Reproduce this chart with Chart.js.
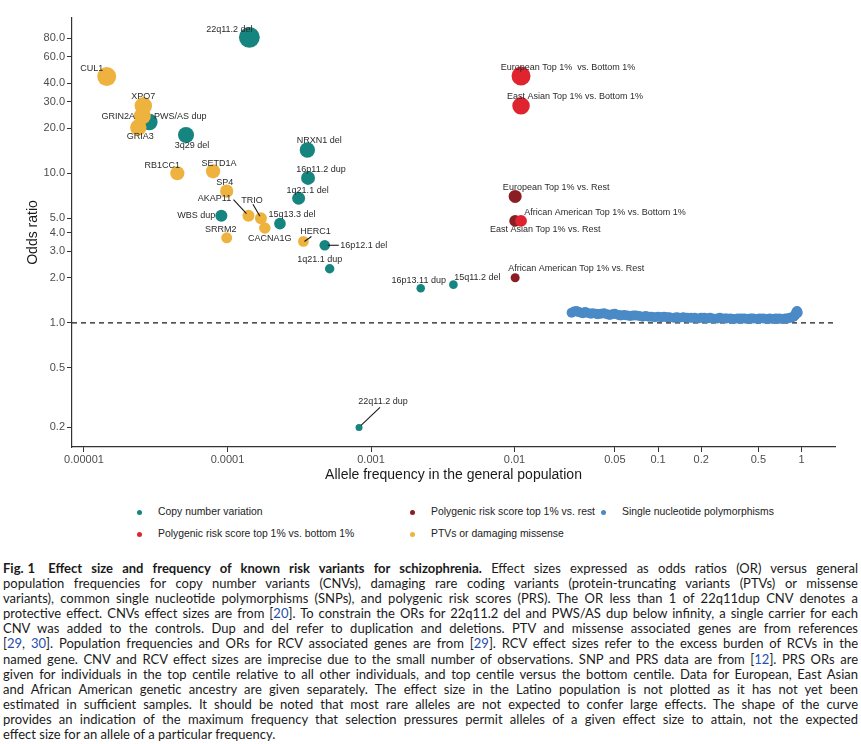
<!DOCTYPE html>
<html>
<head>
<meta charset="utf-8">
<script src="https://cdn.jsdelivr.net/npm/chart.js@4.4.1/dist/chart.umd.min.js"></script>
<style>
    body { margin: 0; background: #fff; width: 861px; height: 744px; overflow: hidden; position: relative;
           font-family: "Liberation Sans", Arial, sans-serif; }
    #plot { position: absolute; left: 0; top: 0; width: 861px; height: 500px; }
    .lg { position: absolute; font-size: 10.4px; color: #222; white-space: nowrap; line-height: 14px; }
    .lg i { position: absolute; left: -21px; top: 4.5px; width: 5px; height: 5px; border-radius: 50%; }
    #caption { position: absolute; left: 3px; top: 561px; width: 855px; font-family: Lato, "Open Sans", sans-serif;
               font-size: 13px; line-height: 15.1px; color: #1a1a1a; }
    #caption div { white-space: nowrap; }
    #caption a { color: #1f4fae; text-decoration: none; }
    #caption .fix { display: inline-block; margin-right: 13px; }
    #caption .fix span { margin-left: 4px; }
</style>
</head>
<body>
<div id="plot"><canvas id="chart"></canvas></div>

<div class="lg" style="left:158px;top:505px"><i style="background:#16857f"></i>Copy number variation</div>
<div class="lg" style="left:431px;top:505px"><i style="background:#8b1e24"></i>Polygenic risk score top 1% vs. rest</div>
<div class="lg" style="left:622px;top:505px"><i style="background:#4a8ac6"></i>Single nucleotide polymorphisms</div>
<div class="lg" style="left:158px;top:527px"><i style="background:#e0242f"></i>Polygenic risk score top 1% vs. bottom 1%</div>
<div class="lg" style="left:431px;top:527px"><i style="background:#eeb33e"></i>PTVs or damaging missense</div>

<div id="caption">
<div class="j"><b class="fix">Fig.<span>1</span></b><b>Effect size and frequency of known risk variants for schizophrenia.</b> Effect sizes expressed as odds ratios (OR) versus general</div>
<div class="j">population frequencies for copy number variants (CNVs), damaging rare coding variants (protein-truncating variants (PTVs) or missense</div>
<div class="j">variants), common single nucleotide polymorphisms (SNPs), and polygenic risk scores (PRS). The OR less than 1 of 22q11dup CNV denotes a</div>
<div class="j">protective effect. CNVs effect sizes are from [<a>20</a>]. To constrain the ORs for 22q11.2 del and PWS/AS dup below infinity, a single carrier for each</div>
<div class="j">CNV was added to the controls. Dup and del refer to duplication and deletions. PTV and missense associated genes are from references</div>
<div class="j">[<a>29</a>, <a>30</a>]. Population frequencies and ORs for RCV associated genes are from [<a>29</a>]. RCV effect sizes refer to the excess burden of RCVs in the</div>
<div class="j">named gene. CNV and RCV effect sizes are imprecise due to the small number of observations. SNP and PRS data are from [<a>12</a>]. PRS ORs are</div>
<div class="j">given for individuals in the top centile relative to all other individuals, and top centile versus the bottom centile. Data for European, East Asian</div>
<div class="j">and African American genetic ancestry are given separately. The effect size in the Latino population is not plotted as it has not yet been</div>
<div class="j">estimated in sufficient samples. It should be noted that most rare alleles are not expected to confer large effects. The shape of the curve</div>
<div class="j">provides an indication of the maximum frequency that selection pressures permit alleles of a given effect size to attain, not the expected</div>
<div>effect size for an allele of a particular frequency.</div>
</div>

<script>
// ── data ─────────────────────────────────────────────
const xTicks = [0.00001, 0.0001, 0.001, 0.01, 0.05, 0.1, 0.2, 0.5, 1];
const xTickLabels = ['0.00001', '0.0001', '0.001', '0.01', '0.05', '0.1', '0.2', '0.5', '1'];
const yTicks = [0.2, 0.5, 1, 2, 3, 4, 5, 10, 20, 30, 40, 60, 80];
const yTickLabels = ['0.2', '0.5', '1.0', '2.0', '3.0', '4.0', '5.0', '10.0', '20.0', '30.0', '40.0', '60.0', '80.0'];

// copy number variants
const cnvNames = ['22q11.2 del', 'PWS/AS dup', '3q29 del', 'NRXN1 del', '16p11.2 dup', '1q21.1 del', 'WBS dup',
                  '15q13.3 del', '16p12.1 del', '1q21.1 dup', '16p13.11 dup', '15q11.2 del', '22q11.2 dup'];
const cnvFreq = [0.000142, 0.0000285, 0.0000514, 0.00036, 0.000364, 0.000313, 0.0000906,
                 0.000232, 0.000476, 0.000515, 0.00222, 0.00375, 0.000825];
const cnvOR = [80.9, 22.0, 18.0, 14.3, 9.3, 6.8, 5.2, 4.6, 3.3, 2.3, 1.7, 1.8, 0.2];

// PTVs / damaging missense
const ptvNames = ['CUL1', 'XPO7', 'GRIN2A', 'GRIA3', 'RB1CC1', 'SETD1A', 'SP4', 'AKAP11', 'TRIO', 'CACNA1G', 'SRRM2', 'HERC1'];
const ptvFreq = [0.0000144, 0.0000259, 0.0000255, 0.0000239, 0.0000447, 0.0000793, 0.0000987,
                 0.00014, 0.000171, 0.000182, 0.0000987, 0.000338];
const ptvOR = [44.3, 28.2, 24.1, 20.2, 10.0, 10.3, 7.6, 5.2, 5.0, 4.3, 3.7, 3.5];

// polygenic risk scores
const prsBottomNames = ['European Top 1%  vs. Bottom 1%', 'East Asian Top 1% vs. Bottom 1%', 'African American Top 1% vs. Bottom 1%'];
const prsBottomFreq = [0.0111, 0.0111, 0.0111];
const prsBottomOR = [44.7, 28.2, 4.8];
const prsRestNames = ['European Top 1% vs. Rest', 'East Asian Top 1% vs. Rest', 'African American Top 1% vs. Rest'];
const prsRestFreq = [0.0101, 0.0101, 0.0101];
const prsRestOR = [7.0, 4.8, 2.0];

// common SNPs
const snpFreq = [0.025, 0.026, 0.027, 0.028, 0.029, 0.030, 0.031, 0.032, 0.034, 0.035,
                 0.037, 0.038, 0.040, 0.042, 0.044, 0.046, 0.048, 0.050, 0.053, 0.055,
                 0.058, 0.061, 0.064, 0.067, 0.070, 0.074, 0.078, 0.082, 0.086, 0.090,
                 0.095, 0.10, 0.105, 0.11, 0.115, 0.12, 0.13, 0.135, 0.14, 0.15,
                 0.16, 0.17, 0.18, 0.19, 0.20, 0.21, 0.22, 0.23, 0.24, 0.26,
                 0.27, 0.29, 0.30, 0.32, 0.34, 0.36, 0.38, 0.40, 0.42, 0.44,
                 0.46, 0.49, 0.51, 0.54, 0.57, 0.60, 0.63, 0.66, 0.70, 0.73,
                 0.77, 0.80, 0.83, 0.86, 0.88, 0.90, 0.91, 0.92, 0.93, 0.94];
const snpOR = [1.17, 1.19, 1.20, 1.18, 1.17, 1.16, 1.18, 1.17, 1.15, 1.16,
               1.15, 1.14, 1.15, 1.16, 1.14, 1.13, 1.14, 1.15, 1.13, 1.12,
               1.13, 1.12, 1.11, 1.12, 1.12, 1.11, 1.10, 1.11, 1.10, 1.10,
               1.09, 1.10, 1.09, 1.10, 1.09, 1.09, 1.08, 1.09, 1.08, 1.09,
               1.08, 1.08, 1.08, 1.07, 1.08, 1.08, 1.07, 1.08, 1.07, 1.07,
               1.08, 1.07, 1.07, 1.07, 1.06, 1.07, 1.07, 1.07, 1.06, 1.07,
               1.07, 1.06, 1.07, 1.07, 1.06, 1.07, 1.06, 1.07, 1.07, 1.06,
               1.07, 1.07, 1.08, 1.09, 1.10, 1.12, 1.15, 1.18, 1.20, 1.17];

// ── styling ──────────────────────────────────────────
const COLORS = { cnv: '#16857f', ptv: '#eeb33e', prsBottom: '#e0242f', prsRest: '#8b1e24', snp: '#4a8ac6' };

// label position relative to its point (px)
const labelOffsets = {
    '22q11.2 del': [-20, -8], 'PWS/AS dup': [31, -5], '3q29 del': [6, 10], 'NRXN1 del': [12, -9],
    '16p11.2 dup': [13, -8], '1q21.1 del': [9, -8], 'WBS dup': [-25, 0], '15q13.3 del': [12, -9],
    '16p12.1 del': [39, 0], '1q21.1 dup': [-10, -9], '16p13.11 dup': [-2, -8], '15q11.2 del': [24, -7],
    '22q11.2 dup': [24, -26],
    'CUL1': [-15, -8], 'XPO7': [0, -9], 'GRIN2A': [-24, 0], 'GRIA3': [2, 9], 'RB1CC1': [-15, -8],
    'SETD1A': [6, -8], 'SP4': [-2, -9], 'AKAP11': [-34, -17], 'TRIO': [-9, -18], 'CACNA1G': [5, 10],
    'SRRM2': [-6, -8], 'HERC1': [12, -10],
    'European Top 1%  vs. Bottom 1%': [47, -8], 'East Asian Top 1% vs. Bottom 1%': [54, -9],
    'African American Top 1% vs. Bottom 1%': [84, -8], 'European Top 1% vs. Rest': [41, -9],
    'East Asian Top 1% vs. Rest': [30, 9], 'African American Top 1% vs. Rest': [61, -9]
};
// leader segments [x0, y0, x1, y1] relative to the point
const leaders = {
    'AKAP11': [-2, -2, -15, -16], 'TRIO': [-1, -2, -8, -14], 'HERC1': [1, 0, 8, -5],
    '16p12.1 del': [3, 0, 14, 0], '22q11.2 dup': [2, -2, 21, -20]
};

function toPoints(freq, or) {
    return freq.map((f, i) => ({ x: f, y: or[i] }));
}

function sizeFor(ctx) {
    const v = ctx.raw ? ctx.raw.y : 1;
    return Math.max(3.5, 3.4 + 1.6 * Math.log(v));
}

function markerSet(label, names, freq, or, color, order) {
    return {
        label, names, order,
        data: toPoints(freq, or),
        backgroundColor: color,
        borderWidth: 0,
        pointRadius: sizeFor,
        pointHoverRadius: sizeFor
    };
}

const annotate = {
    id: 'annotate',
    beforeDatasetsDraw(chart) {
        const { ctx, chartArea: a, scales: { y } } = chart;
        const py = y.getPixelForValue(1);
        ctx.save();
        ctx.setLineDash([5, 4]);
        ctx.strokeStyle = '#1a1a1a';
        ctx.lineWidth = 1.2;
        ctx.beginPath();
        ctx.moveTo(a.left, py);
        ctx.lineTo(a.right, py);
        ctx.stroke();
        ctx.restore();
    },
    afterDatasetsDraw(chart) {
        const ctx = chart.ctx;
        ctx.save();
        ctx.font = '9px "Liberation Sans", Arial, sans-serif';
        ctx.textAlign = 'center';
        ctx.textBaseline = 'middle';
        chart.data.datasets.forEach((ds, di) => {
            if (!ds.names) return;
            const meta = chart.getDatasetMeta(di);
            ds.names.forEach((name, i) => {
                const el = meta.data[i];
                const seg = leaders[name];
                if (seg) {
                    ctx.strokeStyle = '#1a1a1a';
                    ctx.lineWidth = 1.1;
                    ctx.beginPath();
                    ctx.moveTo(el.x + seg[0], el.y + seg[1]);
                    ctx.lineTo(el.x + seg[2], el.y + seg[3]);
                    ctx.stroke();
                }
                const off = labelOffsets[name] || [0, -9];
                ctx.fillStyle = '#2b2b2b';
                ctx.fillText(name, el.x + off[0], el.y + off[1]);
            });
        });
        ctx.restore();
    },
    afterDraw(chart) {
        const { ctx, chartArea: a } = chart;
        ctx.save();
        ctx.fillStyle = '#1a1a1a';
        ctx.font = '14px "Liberation Sans", Arial, sans-serif';
        ctx.textAlign = 'center';
        ctx.textBaseline = 'middle';
        ctx.fillText('Allele frequency in the general population', (a.left + a.right) / 2, a.bottom + 28);
        ctx.translate(33, (a.top + a.bottom) / 2);
        ctx.rotate(-Math.PI / 2);
        ctx.fillText('Odds ratio', 0, 0);
        ctx.restore();
    }
};

const axisGrid = { drawOnChartArea: false, drawTicks: true, tickLength: 5, color: '#333', lineWidth: 1 };
const tickFont = { family: '"Liberation Sans", Arial, sans-serif', size: 11 };

new Chart(document.getElementById('chart'), {
    type: 'scatter',
    data: {
        datasets: [
            markerSet('PTVs or damaging missense', ptvNames, ptvFreq, ptvOR, COLORS.ptv, 1),
            markerSet('Polygenic risk score top 1% vs. bottom 1%', prsBottomNames, prsBottomFreq, prsBottomOR, COLORS.prsBottom, 2),
            markerSet('Polygenic risk score top 1% vs. rest', prsRestNames, prsRestFreq, prsRestOR, COLORS.prsRest, 3),
            markerSet('Copy number variation', cnvNames, cnvFreq, cnvOR, COLORS.cnv, 4),
            {
                label: 'Single nucleotide polymorphisms', order: 5,
                data: toPoints(snpFreq, snpOR),
                backgroundColor: COLORS.snp, borderWidth: 0, pointRadius: 5, pointHoverRadius: 5
            }
        ]
    },
    options: {
        responsive: true,
        maintainAspectRatio: false,
        animation: false,
        layout: { padding: { left: 0, right: 26, top: 18, bottom: 0 } },
        plugins: { legend: { display: false }, tooltip: { enabled: false } },
        scales: {
            x: {
                type: 'logarithmic', min: 0.00000825, max: 1.71,
                afterBuildTicks: s => { s.ticks = xTicks.map(v => ({ value: v })); },
                afterFit: s => { s.height = 53; },
                ticks: { autoSkip: false, maxRotation: 0, minRotation: 0, padding: 1, color: '#4d4d4d', font: tickFont,
                         callback: (v, i) => xTickLabels[i] },
                grid: axisGrid,
                border: { color: '#333', width: 1.2 }
            },
            y: {
                type: 'logarithmic', min: 0.148, max: 109,
                afterBuildTicks: s => { s.ticks = yTicks.map(v => ({ value: v })); },
                afterFit: s => { s.width = 72; },
                ticks: { autoSkip: false, padding: 2, color: '#4d4d4d', font: tickFont,
                         callback: (v, i) => yTickLabels[i] },
                grid: axisGrid,
                border: { color: '#333', width: 1.2 }
            }
        }
    },
    plugins: [annotate]
});

// justify caption lines so they break exactly as in the figure
(function justify() {
    const cap = document.getElementById('caption');
    const W = cap.clientWidth;
    const lines = Array.from(cap.querySelectorAll('div'));
    // tighten letters when the densest line would not fit
    let worst = 0, worstChars = 1;
    lines.forEach(l => {
        const w = measure(l);
        if (w - W > worst) { worst = w - W; worstChars = l.textContent.length; }
    });
    if (worst > 0) cap.style.letterSpacing = (-(worst + 4) / worstChars).toFixed(3) + 'px';
    lines.forEach(l => {
        if (!l.classList.contains('j')) return;
        const spaces = (l.textContent.match(/ /g) || []).length;
        const w = measure(l);
        l.style.wordSpacing = ((W - w) / spaces).toFixed(3) + 'px';
    });
    function measure(el) {
        const r = document.createRange();
        r.selectNodeContents(el);
        return r.getBoundingClientRect().width;
    }
})();
</script>
</body>
</html>
